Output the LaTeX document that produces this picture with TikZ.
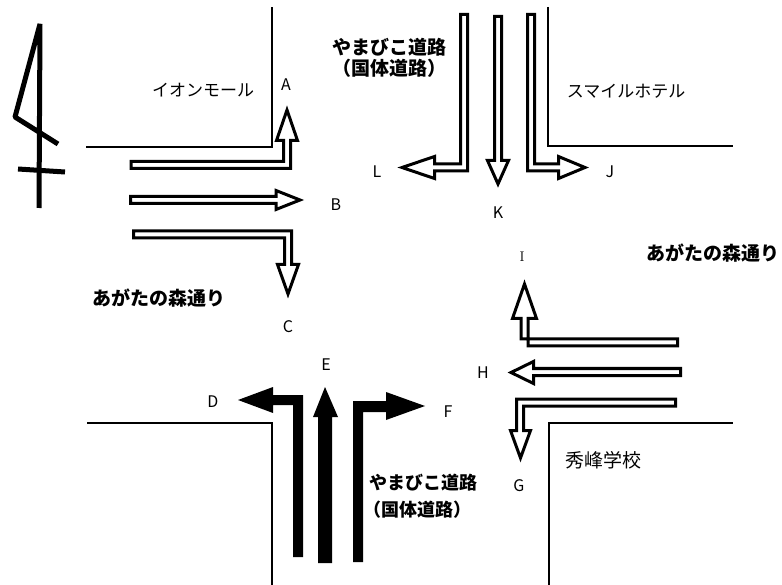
\documentclass[tikz,border=0pt]{standalone}
\usepackage{fontspec}
\newfontfamily\jp{Noto Sans CJK JP}
\usepackage{tikz}

\begin{document}
\begin{tikzpicture}[x=1pt,y=-1pt,
    wall/.style={line width=2pt},
    hollow/.style={draw,line width=3pt,fill=white,line join=miter},
    blackarrow/.style={fill=black},
    lbl/.style={font=\jp\fontsize{16}{16}\selectfont},
    bldg/.style={font=\jp\fontsize{17}{17}\selectfont},
    road/.style={font=\jp\bfseries\fontsize{19}{19}\selectfont}]
    \useasboundingbox (0,0) rectangle (782,585);

    % north sign
    \draw[line width=5pt,line join=bevel] (39,208) -- (40,24) -- (15,117) -- (58,144);
    \draw[line width=5pt] (18,169) -- (65,172);

    % corners of the crossing
    \draw[wall] (86,147) -- (272,147) -- (272,7);
    \draw[wall] (548,7) -- (548,146) -- (733,146);
    \draw[wall] (87,423) -- (272,423) -- (272,585);
    \draw[wall] (549,585) -- (549,423) -- (733,423);

    % from the west
    \draw[hollow] (131,161.5) -- (283.5,161.5) -- (283.5,140.5) -- (276.5,140.5) -- (287,110)
      -- (297.5,140.5) -- (290.5,140.5) -- (290.5,168.5) -- (131,168.5) -- cycle;
    \draw[hollow] (130.5,196.5) -- (276,196.5) -- (276,190.5) -- (300,200)
      -- (276,209.5) -- (276,203.5) -- (130.5,203.5) -- cycle;
    \draw[hollow] (133.5,231) -- (291.5,231) -- (291.5,264.5) -- (298.5,264.5) -- (288,294)
      -- (277.5,264.5) -- (284.5,264.5) -- (284.5,238) -- (133.5,238) -- cycle;

    % from the north
    \draw[hollow] (460.5,14.5) -- (467.5,14.5) -- (467.5,171) -- (434.5,171) -- (434.5,178.5)
      -- (402,167.5) -- (434.5,156.5) -- (434.5,164) -- (460.5,164) -- cycle;
    \draw[hollow] (494.5,16.5) -- (501.5,16.5) -- (501.5,160.5) -- (508.5,160.5) -- (498,184)
      -- (487.5,160.5) -- (494.5,160.5) -- cycle;
    \draw[hollow] (527.5,14.5) -- (534.5,14.5) -- (534.5,164) -- (558.5,164) -- (558.5,156.5)
      -- (585,167.5) -- (558.5,178.5) -- (558.5,171) -- (527.5,171) -- cycle;

    % from the east
    \draw[hollow] (677.5,339) -- (521,339) -- (521,318.5) -- (512.5,318.5) -- (524.5,284)
      -- (536.5,318.5) -- (528,318.5) -- (528,346) -- (677.5,346) -- cycle;
    \draw[hollow] (680.5,368.5) -- (533.5,368.5) -- (533.5,361.5) -- (511,372.5)
      -- (533.5,383.5) -- (533.5,375.5) -- (680.5,375.5) -- cycle;
    \draw[hollow] (675.5,399) -- (516.5,399) -- (516.5,430.5) -- (510.5,430.5) -- (520.5,458)
      -- (530.5,430.5) -- (523.5,430.5) -- (523.5,406) -- (675.5,406) -- cycle;

    % from the south
    \fill[blackarrow] (293,557) -- (303,557) -- (303,395) -- (273,395) -- (273,387) -- (238,400)
      -- (273,413) -- (273,405) -- (293,405) -- cycle;
    \fill[blackarrow] (318,563) -- (332,563) -- (332,417) -- (338,417) -- (325,387)
      -- (313,417) -- (318,417) -- cycle;
    \fill[blackarrow] (353,562) -- (363,562) -- (363,412) -- (386,412) -- (386,420) -- (425,406)
      -- (386,392) -- (386,401) -- (353,401) -- cycle;

    % directions
    \node[lbl] (a) at (286,85) {A};
    \node[lbl] (b) at (336,205) {B};
    \node[lbl] (c) at (288,327) {C};
    \node[lbl] (d) at (213,402) {D};
    \node[lbl] (e) at (326,365) {E};
    \node[lbl] (f) at (448,412) {F};
    \node[lbl] (g) at (519,486) {G};
    \node[lbl] (h) at (483,373) {H};
    \node[font=\fontsize{14}{14}\selectfont] (i) at (522,257) {I};
    \node[lbl] (j) at (610,172) {J};
    \node[lbl] (k) at (498,213) {K};
    \node[lbl] (l) at (377,172) {L};

    % buildings and roads
    \node[bldg] (aeon) at (203,90) {イオンモール};
    \node[bldg] (hotel) at (626,91) {スマイルホテル};
    \node[bldg,font=\jp\fontsize{19}{19}\selectfont] (school) at (603,460) {秀峰学校};
    \node[road] (agataw) at (159,298) {あがたの森通り};
    \node[road] (agatae) at (713,253) {あがたの森通り};
    \node[road,anchor=east] (yamanorth) at (450,47) {やまびこ道路};
    \node[road,anchor=east] (kokunorth) at (450,68) {（国体道路）};
    \node[road,anchor=west,font=\jp\bfseries\fontsize{18}{18}\selectfont] (yamasouth) at (366,483) {やまびこ道路};
    \node[road,anchor=west,font=\jp\bfseries\fontsize{18}{18}\selectfont] (kokusouth) at (360,510) {（国体道路）};
\end{tikzpicture}
\end{document}
